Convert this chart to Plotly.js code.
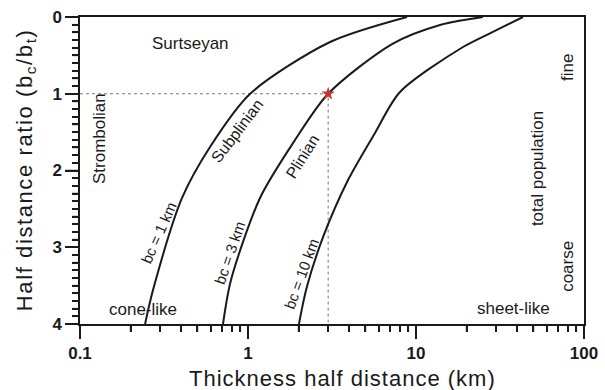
<!DOCTYPE html>
<html>
<head>
<meta charset="utf-8">
<script src="https://cdn.plot.ly/plotly-3.0.1.min.js"></script>
<style>html,body{margin:0;padding:0;background:#fff;}#chart{width:605px;height:390px;}</style>
</head>
<body>
<div id="chart"></div>
<script>
// Curve data (x: thickness half distance km, y: half distance ratio)
const bc1X = [8.84, 3.08, 1.03, 0.594, 0.405, 0.272, 0.244];
const bc1Y = [0, 0.326, 1.0, 1.694, 2.358, 3.557, 4.0];
const bc3X = [25.0, 13.9, 7.2, 3.0, 1.905, 1.179, 0.792, 0.71];
const bc3Y = [0, 0.104, 0.352, 1.0, 1.603, 2.358, 3.427, 4.0];
const bc10X = [43.3, 30.3, 19.05, 8.03, 5.70, 3.94, 2.80, 2.24, 2.01];
const bc10Y = [0, 0.169, 0.391, 0.977, 1.511, 2.124, 2.866, 3.518, 4.0];
const starX = [3];
const starY = [1];
const guideX = [0.1, 3, 3];
const guideY = [1, 1, 4];

const FONT = 'Liberation Sans, Arial, sans-serif';
const INK = '#1a1a1a';

const curveLine = {color: INK, width: 2, shape: 'spline', smoothing: 0.8};
const traces = [
  {x: guideX, y: guideY, mode: 'lines', line: {color: '#777', width: 1, dash: 'dot'}, hoverinfo: 'skip'},
  {x: bc1X, y: bc1Y, mode: 'lines', line: curveLine},
  {x: bc3X, y: bc3Y, mode: 'lines', line: curveLine},
  {x: bc10X, y: bc10Y, mode: 'lines', line: curveLine},
  {x: starX, y: starY, mode: 'markers', marker: {symbol: 'star', size: 10, color: '#c8342c'}}
];

function note(text, x, y, angle, size) {
  return {text: text, xref: 'paper', yref: 'paper', x: x, y: y, xanchor: 'center', yanchor: 'middle',
          textangle: angle || 0, showarrow: false, font: {family: FONT, size: size || 17, color: INK}};
}

const layout = {
  width: 605, height: 390,
  margin: {l: 80, r: 21, t: 17, b: 66},
  paper_bgcolor: '#fff', plot_bgcolor: '#fff',
  showlegend: false,
  font: {family: FONT, color: INK},
  xaxis: {
    type: 'log', range: [-1, 2], tickmode: 'linear', tick0: 0, dtick: 1,
    ticks: 'outside', ticklen: 13, tickwidth: 1.5, tickcolor: INK,
    showline: true, linecolor: INK, linewidth: 1.5, mirror: true,
    showgrid: false, zeroline: false,
    tickfont: {family: FONT, size: 17, color: INK, weight: 'bold'},
    minor: {ticks: 'outside', ticklen: 6, tickcolor: INK, dtick: 'D1', showgrid: false}
  },
  yaxis: {
    range: [4, 0], tickmode: 'linear', tick0: 0, dtick: 1,
    ticks: 'outside', ticklen: 13, tickwidth: 1.5, tickcolor: INK,
    showline: true, linecolor: INK, linewidth: 1.5, mirror: true,
    showgrid: false, zeroline: false,
    tickfont: {family: FONT, size: 17, color: INK, weight: 'bold'},
    minor: {ticks: 'outside', ticklen: 6, tickcolor: INK, dtick: 0.1, showgrid: false}
  },
  annotations: [
    note('Thickness half distance (km)', 0.52, -0.176, 0, 22),
    note('Half distance ratio (b<sub>c</sub>/b<sub>t</sub>)', -0.109, 0.5, -90, 22),
    note('Surtseyan', 0.220, 0.915, 0, 17),
    note('Strombolian', 0.040, 0.603, -90, 17),
    note('Subplinian', 0.313, 0.629, -53, 16),
    note('Plinian', 0.442, 0.544, -58, 16),
    note('bc = 1 km', 0.155, 0.296, -66, 15),
    note('bc = 3 km', 0.296, 0.231, -71, 15),
    note('bc = 10 km', 0.440, 0.163, -70, 15),
    note('cone-like', 0.125, 0.046, 0, 17),
    note('sheet-like', 0.861, 0.049, 0, 17),
    note('fine', 0.966, 0.837, -90, 17),
    note('total population', 0.909, 0.505, -90, 17),
    note('coarse', 0.968, 0.189, -90, 17)
  ]
};

const div = document.getElementById('chart');
Plotly.newPlot(div, traces, layout, {displayModeBar: false}).then(function () {
  div.querySelectorAll('.annotation-text').forEach(function (t) {
    const s = t.textContent;
    if (s.indexOf('Thickness') === 0) t.style.letterSpacing = '1px';
    if (s.indexOf('Half distance') === 0) t.style.letterSpacing = '1.6px';
  });
  // Re-stroke the axis tick marks that Plotly computed, on a top overlay, so they are always visible
  const NS = 'http://www.w3.org/2000/svg';
  const ov = document.createElementNS(NS, 'svg');
  ov.setAttribute('width', 605);
  ov.setAttribute('height', 390);
  ov.style.position = 'absolute';
  ov.style.left = '0px';
  ov.style.top = '0px';
  ov.style.pointerEvents = 'none';
  div.querySelectorAll('path.xtick, path.ytick').forEach(function (p) {
    const r = p.getBoundingClientRect();
    const ln = document.createElementNS(NS, 'line');
    ln.setAttribute('x1', r.left); ln.setAttribute('y1', r.top);
    ln.setAttribute('x2', r.right); ln.setAttribute('y2', r.bottom);
    ln.setAttribute('stroke', INK);
    const w = parseFloat(p.style.strokeWidth) || 1;
    ln.setAttribute('stroke-width', Math.min(w, 1.5));
    ov.appendChild(ln);
  });
  document.body.appendChild(ov);
});
</script>
</body>
</html>
